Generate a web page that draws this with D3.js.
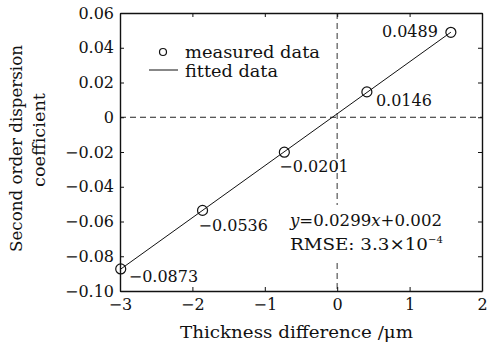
<!DOCTYPE html>
<html>
<head>
<meta charset="utf-8">
<script src="https://cdn.jsdelivr.net/npm/d3@7"></script>
</head>
<body style="margin:0;background:#fff">
<script>
// measured points: thickness difference (um) vs dispersion coefficient
var thickness = [-2.99, -1.86, -0.73, 0.41, 1.57]
var measured = [-0.0873, -0.0536, -0.0201, 0.0146, 0.0489]
var slope = 0.0299, intercept = 0.002
var xTicks = [-3, -2, -1, 0, 1, 2]
var yTicks = [-0.10, -0.08, -0.06, -0.04, -0.02, 0, 0.02, 0.04, 0.06]

var W = 489, H = 346
var m = {left: 120, top: 13, right: 7, bottom: 55}
var FONT = "'DejaVu Serif', serif"
var fs = 16

var svg = d3.select("body").append("svg")
    .attr("width", W)
    .attr("height", H)

var x = d3.scaleLinear().domain([-3, 2]).range([m.left, W - m.right])
var y = d3.scaleLinear().domain([-0.10, 0.06]).range([H - m.bottom, m.top])

var fmtY = function(d) { return d === 0 ? "0" : d3.format(".2f")(d).replace("-", "\u2212") }
var fmtX = function(d) { return String(d).replace("-", "\u2212") }

function txt(sel, size) {
    return sel.style("font-family", FONT).style("font-size", (size || fs) + "px").attr("fill", "#111")
}
// word labels are stretched a bit to get the width of the original serif face
function word(sel, len) {
    return txt(sel, 17).attr("textLength", len).attr("lengthAdjust", "spacingAndGlyphs")
}

// reference dashed lines
svg.append("line")
    .attr("x1", x(-3)).attr("x2", x(2))
    .attr("y1", y(0)).attr("y2", y(0))
    .attr("stroke", "#222").attr("stroke-width", 1.2)
    .attr("stroke-dasharray", "6,4")
svg.append("line")
    .attr("x1", x(0)).attr("x2", x(0))
    .attr("y1", y(0.06)).attr("y2", y(-0.10))
    .attr("stroke", "#777").attr("stroke-width", 1.5)
    .attr("stroke-dasharray", "6,4")

// axes
svg.append("g")
    .attr("transform", "translate(0," + y(-0.10) + ")")
    .call(d3.axisBottom(x).tickValues(xTicks).tickFormat(fmtX).tickSizeInner(-4).tickSizeOuter(0).tickPadding(8))
svg.append("g")
    .attr("transform", "translate(" + x(-3) + ",0)")
    .call(d3.axisLeft(y).tickValues(yTicks).tickFormat(fmtY).tickSizeInner(-4).tickSizeOuter(0).tickPadding(6))
svg.append("g")
    .attr("transform", "translate(0," + y(0.06) + ")")
    .call(d3.axisTop(x).tickValues(xTicks).tickFormat("").tickSizeInner(-4).tickSizeOuter(0))
svg.append("g")
    .attr("transform", "translate(" + x(2) + ",0)")
    .call(d3.axisRight(y).tickValues(yTicks).tickFormat("").tickSizeInner(-4).tickSizeOuter(0))

svg.selectAll(".domain").attr("stroke", "#111").attr("stroke-width", 1.4)
svg.selectAll(".tick line").attr("stroke", "#111")
txt(svg.selectAll(".tick text"))

// fitted line
var fitX = [thickness[0], thickness[thickness.length - 1]]
svg.append("path")
    .datum(fitX)
    .attr("fill", "none")
    .attr("stroke", "#111")
    .attr("stroke-width", 1)
    .attr("d", d3.line()
        .x(function(d) { return x(d) })
        .y(function(d) { return y(slope * d + intercept) }))

// measured circles
svg.selectAll(".pt")
    .data(measured)
    .enter().append("circle")
    .attr("class", "pt")
    .attr("cx", function(d, i) { return x(thickness[i]) })
    .attr("cy", function(d) { return y(d) })
    .attr("r", 5)
    .attr("fill", "none")
    .attr("stroke", "#111")
    .attr("stroke-width", 1.2)

// point value labels
var labelOff = [[8, 13, "start"], [-4, 21, "start"], [-5, 20, "start"], [9, 14, "start"], [-13, 5, "end"]]
txt(svg.selectAll(".lbl")
    .data(measured)
    .enter().append("text")
    .attr("class", "lbl")
    .attr("x", function(d, i) { return x(thickness[i]) + labelOff[i][0] })
    .attr("y", function(d) { return y(d) })
    .attr("dy", function(d, i) { return labelOff[i][1] })
    .attr("text-anchor", function(d, i) { return labelOff[i][2] })
    .text(function(d) { return String(d).replace("-", "\u2212") }))

// fit equation box
svg.append("rect")
    .attr("x", 289).attr("y", 205).attr("width", 152).attr("height", 55)
    .attr("fill", "#fff")
var eq = txt(svg.append("text").attr("x", 290).attr("y", 226))
    .attr("textLength", 152).attr("lengthAdjust", "spacingAndGlyphs")
eq.append("tspan").style("font-style", "italic").text("y")
eq.append("tspan").text("=0.0299")
eq.append("tspan").style("font-style", "italic").text("x")
eq.append("tspan").text("+0.002")
var rm = txt(svg.append("text").attr("x", 290).attr("y", 250))
rm.append("tspan").attr("textLength", 138).attr("lengthAdjust", "spacingAndGlyphs").text("RMSE: 3.3\u00d710")
rm.append("tspan").attr("dy", -7).style("font-size", "10px").text("\u22124")

// legend
svg.append("circle")
    .attr("cx", 163).attr("cy", 52).attr("r", 3.5)
    .attr("fill", "none").attr("stroke", "#111").attr("stroke-width", 1.2)
svg.append("line")
    .attr("x1", 149).attr("x2", 178).attr("y1", 70).attr("y2", 70)
    .attr("stroke", "#111").attr("stroke-width", 1)
word(svg.append("text").attr("x", 185).attr("y", 58).text("measured data"), 135)
word(svg.append("text").attr("x", 185).attr("y", 77).text("fitted data"), 93)

// axis titles
word(svg.append("text")
    .attr("x", 180).attr("y", 338)
    .text("Thickness difference /\u03bcm"), 233)
word(svg.append("text")
    .attr("transform", "translate(22,252) rotate(-90)")
    .text("Second order dispersion"), 207)
word(svg.append("text")
    .attr("transform", "translate(45,187) rotate(-90)")
    .text("coefficient"), 94)
</script>
</body>
</html>
